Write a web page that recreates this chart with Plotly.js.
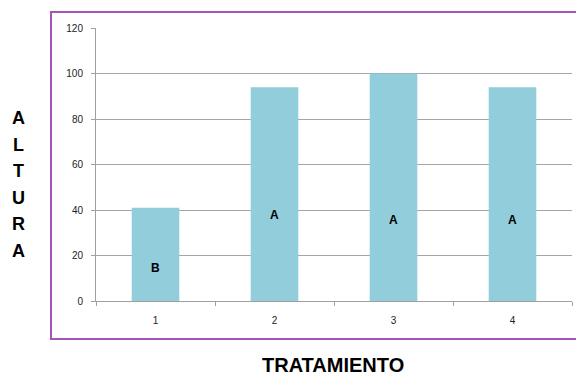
<!DOCTYPE html>
<html>
<head>
<meta charset="utf-8">
<script src="https://cdn.plot.ly/plotly-3.0.1.min.js"></script>
<style>html,body{margin:0;padding:0;background:#fff;}#chart{width:576px;height:377px;}</style>
</head>
<body>
<div id="chart"></div>
<script>
const categories = ['1', '2', '3', '4'];
const alturaValues = [41, 94, 100, 94];
const groupLetters = ['B', 'A', 'A', 'A'];
const letterPositions = [14.5, 37.8, 35.6, 35.6];
const yTickValues = [0, 20, 40, 60, 80, 100, 120];
const yAxisTitleLetters = ['A', 'L', 'T', 'U', 'R', 'A'];

const ml = 96, mr = 4, mt = 28, mb = 76;
const W = 576, H = 377;
const pw = W - ml - mr, ph = H - mt - mb;
const px = x => (x - ml) / pw;
const py = y => 1 - (y - mt) / ph;

const annotations = [];
categories.forEach((c, i) => {
  annotations.push({
    x: i, y: letterPositions[i], xref: 'x', yref: 'y',
    text: '<b>' + groupLetters[i] + '</b>', showarrow: false,
    font: {family: 'Liberation Sans, Arial, sans-serif', size: 12, color: '#000'}
  });
});
yAxisTitleLetters.forEach((l, i) => {
  annotations.push({
    x: px(18), y: py(118 + i * 26.5), xref: 'paper', yref: 'paper',
    text: '<b>' + l + '</b>', showarrow: false, xanchor: 'center', yanchor: 'middle',
    font: {family: 'Liberation Sans, Arial, sans-serif', size: 18, color: '#000'}
  });
});
annotations.push({
  x: px(333), y: py(365), xref: 'paper', yref: 'paper',
  text: '<b>TRATAMIENTO</b>', showarrow: false, xanchor: 'center', yanchor: 'middle',
  font: {family: 'Liberation Sans, Arial, sans-serif', size: 20, color: '#000'}
});

const data = [{
  type: 'bar', x: categories, y: alturaValues,
  marker: {color: '#92CDDC', line: {width: 0}},
  width: 0.4, hoverinfo: 'skip'
}];

const layout = {
  width: W, height: H,
  margin: {l: ml, r: mr, t: mt, b: mb, pad: 0},
  paper_bgcolor: '#fff', plot_bgcolor: '#fff',
  showlegend: false,
  xaxis: {
    type: 'category', range: [-0.5, 3.5], showgrid: false, showline: true, linecolor: '#A0A0A0', linewidth: 1,
    ticks: 'outside', tickson: 'boundaries', ticklen: 4, tickcolor: '#A0A0A0',
    tickfont: {family: 'Liberation Sans, Arial, sans-serif', size: 10, color: '#222'},
    zeroline: false, fixedrange: true, ticklabelstandoff: 10
  },
  yaxis: {
    range: [0, 120], tickvals: yTickValues, showgrid: true, gridcolor: '#A6A6A6', gridwidth: 1,
    showline: true, linecolor: '#A0A0A0', linewidth: 1, ticks: 'outside', ticklen: 4, tickcolor: '#A0A0A0',
    tickfont: {family: 'Liberation Sans, Arial, sans-serif', size: 10, color: '#222'},
    zeroline: false, fixedrange: true, ticklabelstandoff: 6
  },
  shapes: [{
    type: 'rect', xref: 'paper', yref: 'paper',
    x0: px(51), x1: px(590), y0: py(339), y1: py(12),
    line: {color: '#A555B5', width: 2}, fillcolor: 'rgba(0,0,0,0)', layer: 'below'
  }],
  annotations: annotations
};

Plotly.newPlot('chart', data, layout, {displayModeBar: false, staticPlot: true});
</script>
</body>
</html>
